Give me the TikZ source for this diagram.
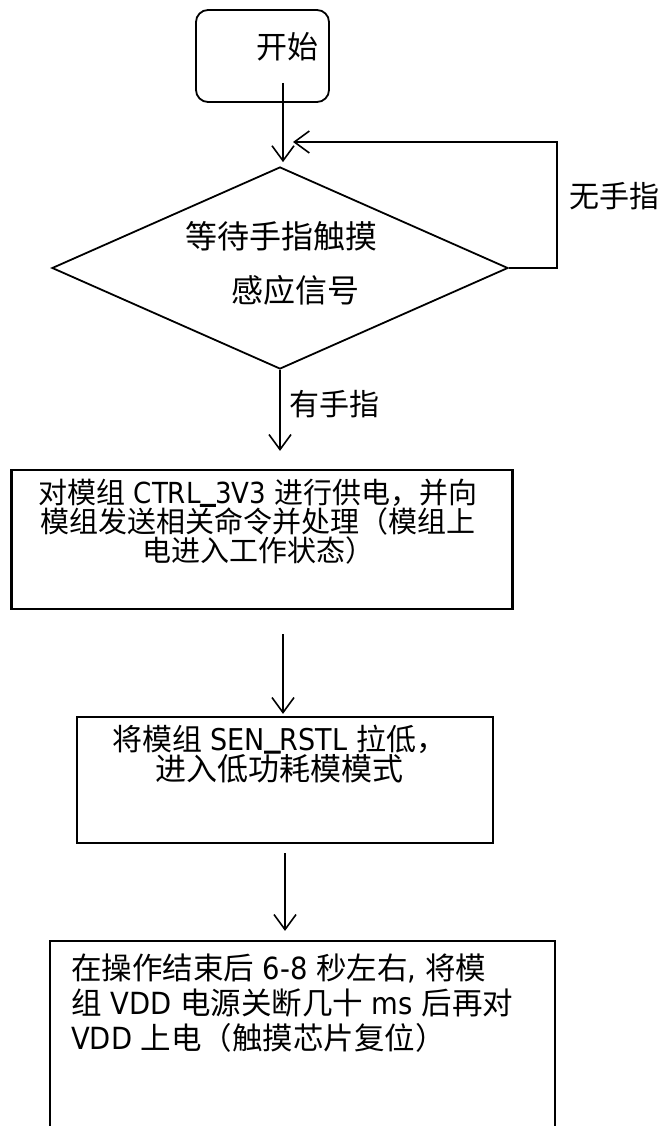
\documentclass[tikz,border=0pt]{standalone}
\usepackage{fontspec}
\setmainfont{Noto Sans CJK SC}
\newfontfamily\latf[FakeStretch=0.9]{DejaVu Sans}
\newfontfamily\usf[FakeBold=3]{DejaVu Sans}
\newcommand\LT[1]{{\latf #1}}
\newcommand\US{\raisebox{0.14em}{\usf\_}}
\usetikzlibrary{arrows.meta,shapes.geometric,calc}
\tikzset{
  box/.style={draw, line width=2.2pt, inner sep=0pt, rectangle},
  txt/.style={inner sep=0pt, anchor=west, font=\fontsize{29}{34}\selectfont},
  arr/.style={line width=1.6pt, -{Straight Barb[length=15pt,width=22pt]}},
}
\begin{document}
\begin{tikzpicture}[x=1pt,y=-1pt]
\fill[white] (0,0) rectangle (662,1126);
\useasboundingbox (0,0) rectangle (662,1126);

% start
\node[box, line width=1.8pt, rounded corners=12pt, minimum width=133pt, minimum height=92pt] (start) at (262.5,56) {};
\node[txt, anchor=center, font=\fontsize{31}{36}\selectfont] (startT) at (287,47) {开始};

% decision
\node[diamond, draw, line width=1.8pt, inner sep=0pt, minimum width=456pt, minimum height=202pt] (dec) at (280,268) {};
\node[txt, anchor=center, font=\fontsize{32}{36}\selectfont] (decA) at (281,236) {等待手指触摸};
\node[txt, anchor=center, font=\fontsize{32}{36}\selectfont] (decB) at (295,290) {感应信号};
\node[txt, font=\fontsize{30}{35}\selectfont] (no) at (569,196) {无手指};
\node[txt, font=\fontsize{30}{35}\selectfont] (yes) at (289,404) {有手指};

% box 2
\node[box, minimum width=501pt, minimum height=139pt] (box2) at (262,539.5) {};
\node[txt, anchor=center, align=center, font=\fontsize{29}{27.5}\selectfont] (b2) at (258,521.5)
  {对模组\LT{ CTRL}\US\LT{3V3 }进行供电，并向\\模组发送相关命令并处理（模组上\\电进入工作状态）};

% box 3
\node[box, minimum width=416pt, minimum height=126pt] (box3) at (285,780) {};
\node[txt, anchor=center, align=center, font=\fontsize{30}{26}\selectfont] (b3) at (279,754)
  {将模组\LT{ SEN}\US\LT{RSTL }拉低，\\{\fontsize{31}{26}\selectfont 进入低功耗模模式}};

% box 4
\node[box, minimum width=505pt, minimum height=200pt] (box4) at (302.5,1041) {};
\node[txt, align=left, font=\fontsize{30.5}{35}\selectfont] (b4) at (71,1003)
  {在操作结束后\LT{ 6-8 }秒左右\LT{, }将模\\组\LT{ VDD }电源关断几十\LT{ ms }后再对\\\LT{VDD }上电（触摸芯片复位）};

% connectors
\coordinate (a0) at (283,83);
\coordinate (ax) at (283,0);
\coordinate (bx) at (285,0);
\coordinate (lpR) at (557,142);
\coordinate (lpE) at (293,142);
\draw[arr] (a0) -- ($(dec.north -| a0)+(0,-4)$);
\draw[arr] (dec.east) -| (lpR) -- (lpE);
\draw[arr] (dec.south) -- ($(box2.north -| dec.south)+(0,-18)$);
\draw[arr] ($(box2.south -| ax)+(0,24)$) -- ($(box3.north -| ax)+(0,-2)$);
\draw[arr] ($(box3.south -| bx)+(0,9)$) -- ($(box4.north -| bx)+(0,-9)$);
\end{tikzpicture}
\end{document}
